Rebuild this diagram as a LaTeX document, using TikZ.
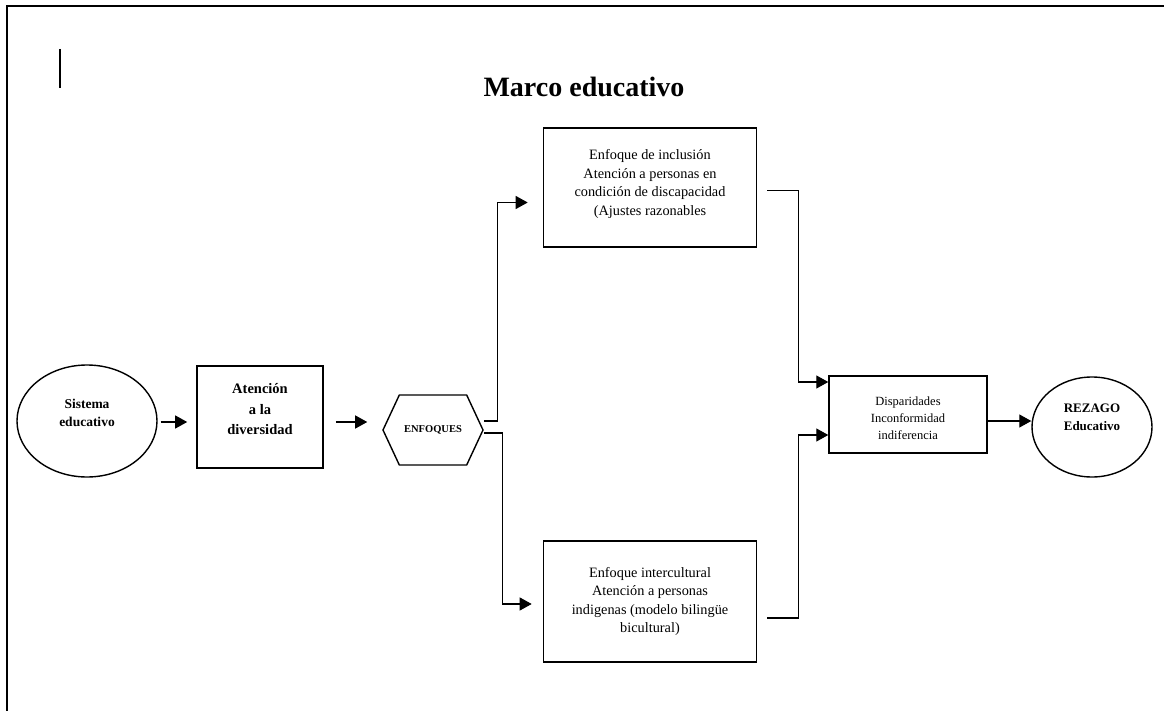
\documentclass[tikz,border=0pt]{standalone}
\usepackage{fontspec}
\setmainfont{Liberation Serif}
\usetikzlibrary{shapes.geometric,shapes.symbols,arrows.meta,calc}
\begin{document}
\begin{tikzpicture}[x=1pt,y=-1pt,
  box/.style={draw, line width=1.6pt, align=center, inner sep=2pt},
  arr/.style={line width=1.2pt, -{Triangle[length=12pt,width=13pt]}},
  bodytxt/.style={font=\fontsize{14.3}{18.5}\selectfont},
  boldtxt/.style={font=\fontsize{13.5}{18.5}\selectfont\bfseries}]
\useasboundingbox (0,0) rectangle (1164,711);
% frame
\draw[line width=2pt] (7,711) -- (7,6) -- (1164,6);
\draw[line width=1.2pt] (60,49) -- (60,88);
% title
\node[font=\fontsize{28}{32}\selectfont\bfseries, anchor=base] (title) at (584,97) {Marco educativo};
% nodes
\node[ellipse, draw, line width=1.4pt, minimum width=140pt, minimum height=112pt, inner sep=0pt, align=center, boldtxt, text depth=16pt] (sis) at (87,421) {Sistema\\educativo};
\node[box, minimum width=126pt, minimum height=102pt, font=\fontsize{14.5}{20.5}\selectfont\bfseries, text depth=16pt] (aten) at (260,417) {Atención\\a la\\diversidad};
\node[shape=signal, signal to=east and west, signal pointer angle=130, draw, line width=1.4pt, minimum width=100pt, minimum height=70pt, inner sep=0pt, font=\fontsize{10.5}{12}\selectfont\bfseries] (enf) at (433,430) {ENFOQUES};
\node[box, minimum width=213pt, minimum height=119pt, bodytxt, text depth=10pt] (inc) at (650,187.5) {Enfoque de inclusión\\Atención a personas en\\condición de discapacidad\\(Ajustes razonables};
\node[box, minimum width=213pt, minimum height=121pt, bodytxt] (int) at (650,601.5) {Enfoque intercultural\\Atención a personas\\indigenas (modelo bilingüe\\bicultural)};
\node[box, line width=1.4pt, minimum width=158pt, minimum height=77pt, font=\fontsize{12.5}{17}\selectfont, text height=51pt] (disp) at (908,414.5) {Disparidades\\Inconformidad\\indiferencia};
\node[ellipse, draw, line width=1.4pt, minimum width=120pt, minimum height=100pt, inner sep=0pt, align=center, font=\fontsize{13}{17.5}\selectfont\bfseries, text depth=20pt] (rez) at (1092,427) {REZAGO\\Educativo};
% connectors
\draw[arr] ($(sis.east)+(3,1)$) -- ($(sis.east -| aten.west)+(-9,1)$);
\draw[arr] ($(aten.east |- sis.east)+(12,1)$) -- ($(enf.west |- sis.east)+(-15,1)$);
\draw[arr] ($(enf.east)+(0,-9)$) -- ++(14,0) |- ($(inc.west)+(-15,15)$);
\draw[arr] ($(enf.east)+(0,3)$) -- ++(19,0) |- ($(int.west)+(-11,2.5)$);
\draw[arr] ($(inc.east)+(10,3)$) -- ++(31,0) |- ($(disp.west)+(0,-32.5)$);
\draw[arr] ($(int.east)+(10,16.5)$) -- ++(31,0) |- ($(disp.west)+(0,20.5)$);
\draw[arr] ($(disp.east)+(0,6.5)$) -- ($(disp.east -| rez.west)+(0,6.5)$);
\end{tikzpicture}
\end{document}
